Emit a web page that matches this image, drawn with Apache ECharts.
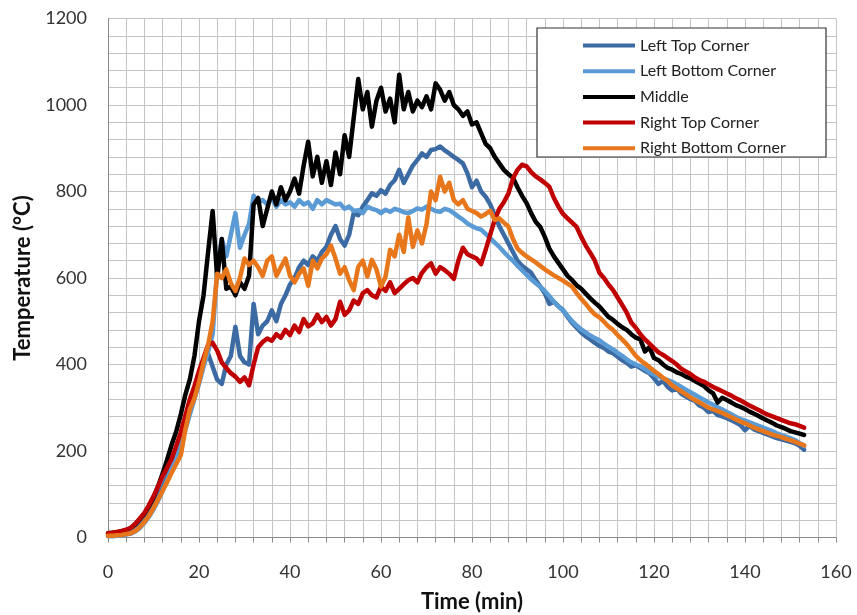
<!DOCTYPE html>
<html>
<head>
<meta charset="utf-8">
<title>Temperature</title>
<script src="https://cdn.jsdelivr.net/npm/echarts@6/dist/echarts.min.js"></script>
<style>
  html, body { margin: 0; padding: 0; background: #fff; }
  #main { width: 857px; height: 615px; }
</style>
</head>
<body>
<div id="main"></div>
<script>
// temperatures, one value per minute from t = 0 to t = 153
const leftTop = [
  4, 4, 5, 6, 8, 10, 16, 26, 38, 52,
  70, 92, 115, 140, 165, 195, 230, 262, 300, 330,
  365, 400, 425, 395, 365, 355, 400, 420, 487, 420,
  405, 400, 540, 470, 490, 500, 525, 500, 540, 560,
  585, 600, 625, 640, 630, 650, 640, 660, 672, 700,
  720, 690, 675, 700, 750, 745, 765, 780, 796, 790,
  803, 795, 815, 826, 850, 820, 840, 860, 873, 888,
  880, 896, 898, 904, 895, 888, 880, 873, 865, 842,
  810, 825, 800, 788, 770, 745, 720, 700, 680, 660,
  640, 628, 620, 612, 595, 580, 565, 540, 545, 535,
  526, 510, 496, 485, 474, 465, 458, 450, 443, 438,
  430, 426, 418, 410, 404, 395, 398, 392, 385, 380,
  368, 355, 362, 348, 340, 345, 332, 326, 320, 316,
  305, 300, 290, 293, 283, 280, 276, 271, 266, 260,
  248, 258, 250, 246, 242, 238, 234, 230, 227, 224,
  221, 218, 212, 203
]
const leftBottom = [
  3, 3, 4, 5, 7, 9, 14, 22, 34, 48,
  65, 85, 108, 132, 158, 185, 215, 248, 285, 320,
  355, 395, 430, 470, 620, 690, 650, 700, 750, 670,
  700, 725, 790, 775, 780, 770, 785, 765, 780, 770,
  775, 765, 780, 770, 775, 760, 780, 770, 780, 775,
  770, 772, 760, 765, 755, 757, 750, 765, 760, 757,
  750, 758, 753, 760, 757, 752, 750, 755, 761, 758,
  765, 760, 755, 753, 760, 757, 750, 742, 735, 726,
  720, 715, 712, 702, 692, 682, 672, 660, 649, 640,
  628, 618, 607, 597, 588, 580, 570, 558, 545, 534,
  525, 513, 500, 490, 481, 474, 467, 461, 456, 448,
  441, 435, 427, 420, 412, 405, 400, 396, 390, 382,
  377, 372, 368, 364, 360, 354, 348, 342, 336, 330,
  324, 318, 312, 307, 301, 296, 290, 285, 279, 274,
  270, 266, 262, 258, 254, 250, 246, 241, 237, 233,
  229, 225, 218, 212
]
const middle = [
  10, 11, 12, 14, 17, 22, 30, 42, 55, 72,
  92, 118, 148, 180, 215, 245, 285, 330, 366, 420,
  500, 560, 660, 755, 600, 690, 575, 580, 560, 590,
  575, 605, 770, 785, 720, 760, 800, 770, 810, 780,
  800, 830, 795, 860, 915, 835, 880, 820, 870, 815,
  890, 840, 930, 880, 970, 1060, 990, 1030, 950, 1010,
  1040, 985, 1015, 960, 1070, 990, 1030, 985, 1010, 995,
  1020, 990, 1050, 1035, 1010, 1030, 1000, 990, 975, 985,
  955, 960, 935, 910, 900, 880, 865, 850, 840, 832,
  810, 790, 773, 750, 730, 718, 695, 668, 650, 635,
  620, 605, 595, 583, 575, 564, 553, 543, 534, 522,
  510, 503, 494, 486, 480, 470, 462, 458, 430, 440,
  415, 410, 400, 392, 388, 382, 378, 372, 368, 362,
  356, 350, 340, 333, 312, 323, 318, 312, 306, 302,
  297, 291, 286, 281, 275, 270, 265, 259, 255, 251,
  246, 243, 240, 237
]
const rightTop = [
  10, 11, 13, 15, 18, 22, 32, 44, 57, 75,
  95, 118, 142, 162, 182, 212, 243, 282, 320, 350,
  385, 415, 445, 450, 432, 405, 392, 380, 372, 360,
  370, 352, 400, 440, 452, 460, 455, 470, 462, 480,
  468, 490, 475, 505, 488, 495, 515, 498, 510, 490,
  505, 545, 515, 525, 548, 540, 565, 572, 560, 555,
  580, 570, 590, 565, 575, 585, 595, 600, 590, 612,
  625, 634, 610, 625, 618, 610, 598, 640, 670, 655,
  650, 645, 632, 665, 700, 735, 760, 775, 795, 830,
  850, 862, 858, 845, 835, 828, 820, 811, 785, 765,
  748, 738, 728, 718, 695, 675, 658, 640, 612, 600,
  585, 572, 555, 538, 520, 497, 485, 470, 458, 448,
  438, 428, 422, 415, 408, 400, 390, 384, 378, 370,
  364, 360, 354, 348, 343, 338, 333, 328, 322, 317,
  311, 305, 300, 295, 289, 284, 280, 276, 272, 268,
  264, 262, 258, 254
]
const rightBottom = [
  4, 4, 5, 6, 8, 10, 15, 24, 36, 50,
  68, 88, 108, 128, 150, 170, 190, 250, 297, 322,
  360, 405, 445, 500, 610, 600, 620, 588, 570, 600,
  645, 630, 640, 625, 605, 640, 650, 605, 625, 645,
  605, 590, 610, 622, 582, 640, 622, 645, 655, 675,
  645, 610, 625, 595, 572, 626, 640, 603, 642, 620,
  580, 603, 665, 650, 700, 660, 740, 672, 710, 680,
  725, 800, 780, 834, 800, 820, 780, 770, 780, 760,
  755, 750, 742, 748, 755, 734, 738, 728, 719, 690,
  668, 658, 650, 643, 636, 628, 620, 613, 606, 600,
  594, 587, 580, 565, 552, 540, 527, 516, 509, 499,
  488, 480, 468, 458, 447, 434, 420, 410, 402, 394,
  385, 378, 369, 362, 352, 345, 338, 331, 324, 318,
  312, 306, 300, 296, 292, 288, 283, 278, 273, 268,
  264, 259, 254, 250, 246, 242, 238, 235, 232, 228,
  225, 221, 217, 213
]

const seriesNames = ['Left Top Corner', 'Left Bottom Corner', 'Middle', 'Right Top Corner', 'Right Bottom Corner']
const seriesColors = ['#3c6ba4', '#5b9bd5', '#000000', '#c00000', '#e8761a']
const seriesValues = [leftTop, leftBottom, middle, rightTop, rightBottom]

const font = 'Lato, "Open Sans", sans-serif'
const gridColor = '#c4c4c4'
const axisColor = '#8a8a8a'

// one sample per minute
const toPoints = (values) => values.map((v, i) => [i, v])

const series = seriesNames.map((name, k) => ({
  name: name,
  type: 'line',
  showSymbol: false,
  symbol: 'none',
  lineStyle: { width: 4.5, color: seriesColors[k], cap: 'round', join: 'round' },
  itemStyle: { color: seriesColors[k] },
  data: toPoints(seriesValues[k])
}))

const chartDom = document.getElementById('main')
const myChart = echarts.init(chartDom)
const option = {
  animation: false,
  backgroundColor: '#fff',
  grid: {
    left: 108,
    right: 21,
    top: 18.5,
    bottom: 77.5,
    // keep the plot box fixed even though the axis title touches the edge
    outerBoundsMode: 'none'
  },
  graphic: [
    {
      type: 'rect',
      z: 5,
      shape: { x: 537, y: 28, width: 289, height: 129 },
      style: { fill: '#fff', stroke: '#333', lineWidth: 1.2 }
    }
  ],
  legend: {
    z: 10,
    orient: 'vertical',
    left: 578,
    top: 31.5,
    itemWidth: 52,
    itemHeight: 4,
    itemGap: 7.7,
    icon: 'rect',
    data: seriesNames,
    textStyle: { fontFamily: font, fontSize: 16, lineHeight: 18, color: '#222' }
  },
  xAxis: {
    type: 'value',
    min: 0,
    max: 160,
    interval: 20,
    name: 'Time (min)',
    nameLocation: 'middle',
    nameGap: 53,
    nameTextStyle: { fontFamily: font, fontSize: 22, fontWeight: 'bold', color: '#111' },
    axisLine: { show: true, lineStyle: { color: axisColor, width: 1 } },
    axisTick: { show: true, length: 5, lineStyle: { color: axisColor } },
    minorTick: { show: true, splitNumber: 5, length: 5, lineStyle: { color: axisColor } },
    splitLine: { show: true, lineStyle: { color: gridColor, width: 1 } },
    minorSplitLine: { show: true, lineStyle: { color: gridColor, width: 1 } },
    axisLabel: { fontFamily: font, fontSize: 18, color: '#333', margin: 26 }
  },
  yAxis: {
    type: 'value',
    min: 0,
    max: 1200,
    interval: 200,
    name: 'Temperature (°C)',
    nameLocation: 'middle',
    nameGap: 61,
    nameTextStyle: { fontFamily: font, fontSize: 22, fontWeight: 'bold', color: '#111' },
    axisLine: { show: true, lineStyle: { color: axisColor, width: 1 } },
    axisTick: { show: false },
    minorTick: { show: false, splitNumber: 5 },
    splitLine: { show: true, lineStyle: { color: gridColor, width: 1 } },
    minorSplitLine: { show: true, lineStyle: { color: gridColor, width: 1 } },
    axisLabel: {
      fontFamily: font,
      fontSize: 18,
      color: '#333',
      margin: 21,
      formatter: (v) => String(v)
    }
  },
  series: series
}
myChart.setOption(option)
</script>
</body>
</html>
